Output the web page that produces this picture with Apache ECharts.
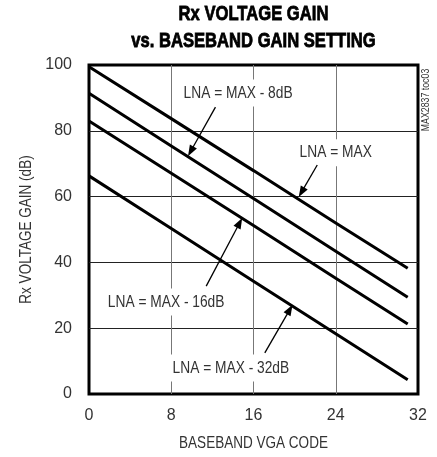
<!DOCTYPE html>
<html>
<head>
<meta charset="utf-8">
<script src="https://cdn.jsdelivr.net/npm/echarts@6/dist/echarts.min.js"></script>
<style>
html,body{margin:0;padding:0;background:#fff;}
#chart{width:437px;height:457px;}
</style>
</head>
<body>
<div id="chart"></div>
<script>
// ---- data ----
const codes = [0, 8, 16, 24, 31];
const lnaMax   = [99.5, 83.7, 67.9, 52.0, 38.2];
const lnaMax8  = [91.4, 75.4, 59.4, 43.4, 29.4];
const lnaMax16 = [83.0, 67.1, 51.2, 35.2, 21.3];
const lnaMax32 = [66.3, 50.3, 34.3, 18.3, 4.3];
const seriesNames = ['LNA = MAX', 'LNA = MAX - 8dB', 'LNA = MAX - 16dB', 'LNA = MAX - 32dB'];
const xTickLabels = ['0', '8', '16', '24', '32'];
const yTickLabels = ['0', '20', '40', '60', '80', '100'];
const titleLines = ['Rx VOLTAGE GAIN', 'vs. BASEBAND GAIN SETTING'];
const xAxisName = 'BASEBAND VGA CODE';
const yAxisName = 'Rx VOLTAGE GAIN (dB)';
const noteText = 'MAX2837 toc03';
// annotation anchors in data units (label centre, arrow tail, arrow tip)
const labelPos  = [[24.0, 73.3], [14.5, 91.5], [7.5, 28.0], [13.8, 7.9]];
const arrowTail = [[22.2, 69.6], [12.3, 87.2], [11.4, 32.8], [17.1, 12.5]];
const arrowTip  = [[20.4, 59.9], [9.63, 72.3], [14.9, 53.5], [19.8, 27.1]];

const FONT = '"Liberation Sans", Arial, sans-serif';
const NARROW = 0.82;
const allSeries = [lnaMax, lnaMax8, lnaMax16, lnaMax32];

const chart = echarts.init(document.getElementById('chart'), null, {renderer: 'canvas'});
const option = {
  animation: false,
  backgroundColor: '#fff',
  grid: {left: 89, right: 19, top: 65, bottom: 63, show: true, borderColor: '#000', borderWidth: 3, backgroundColor: 'transparent'},
  xAxis: {
    type: 'value', min: 0, max: 32, interval: 8,
    axisLine: {show: false}, axisTick: {show: false},
    axisLabel: {fontFamily: FONT, fontSize: 16, color: '#333', margin: 14,
      formatter: v => xTickLabels[xTickLabels.indexOf(String(v))] || ''},
    splitLine: {show: true, showMinLine: false, showMaxLine: false, lineStyle: {color: '#777', width: 1}}
  },
  yAxis: {
    type: 'value', min: 0, max: 100, interval: 20,
    axisLine: {show: false}, axisTick: {show: false},
    axisLabel: {fontFamily: FONT, fontSize: 16, color: '#333', margin: 17,
      formatter: v => yTickLabels[yTickLabels.indexOf(String(v))] || ''},
    splitLine: {show: true, showMinLine: false, showMaxLine: false, lineStyle: {color: '#222', width: 1}}
  },
  series: allSeries.map((vals, i) => ({
    name: seriesNames[i], type: 'line', showSymbol: false, symbol: 'none',
    data: codes.map((c, j) => [c, vals[j]]),
    lineStyle: {color: '#000', width: 3}, z: 3
  }))
};
chart.setOption(option);

function narrowText(text, x, y, size, opts) {
  opts = opts || {};
  return {
    type: 'text', x: x, y: y, z: 10, rotation: opts.rotation || 0,
    scaleX: opts.scaleX || NARROW, scaleY: 1,
    style: Object.assign({text: text, font: (opts.weight || 'normal') + ' ' + size + 'px ' + FONT,
      fill: opts.fill || '#333', align: 'center', verticalAlign: 'middle'}, opts.extra || {})
  };
}

function buildGraphics() {
  const g = [];
  const gridRect = chart.getModel().getComponent('grid', 0).coordinateSystem.getRect();
  const cx = gridRect.x + gridRect.width / 2;
  const cy = gridRect.y + gridRect.height / 2;
  // title
  const tExtra = {stroke: '#000', lineWidth: 0.8};
  g.push(narrowText(titleLines[0], cx, 14, 20.5, {weight: 'bold', fill: '#000', scaleX: 0.81, extra: tExtra}));
  g.push(narrowText(titleLines[1], cx, 41, 20.5, {weight: 'bold', fill: '#000', scaleX: 0.81, extra: tExtra}));
  // axis names
  g.push(narrowText(xAxisName, cx, gridRect.y + gridRect.height + 49, 16.5));
  g.push(narrowText(yAxisName, 26, cy, 16.5, {rotation: Math.PI / 2}));
  // annotations
  for (let i = 0; i < seriesNames.length; i++) {
    const lp = chart.convertToPixel({gridIndex: 0}, labelPos[i]);
    const t = chart.convertToPixel({gridIndex: 0}, arrowTail[i]);
    const h = chart.convertToPixel({gridIndex: 0}, arrowTip[i]);
    const dx = h[0] - t[0], dy = h[1] - t[1];
    const len = Math.sqrt(dx*dx + dy*dy);
    const ux = dx/len, uy = dy/len;
    const hl = 11, hw = 4;
    const bx = h[0] - ux*hl, by = h[1] - uy*hl;
    g.push(narrowText(seriesNames[i], lp[0], lp[1], 16.8, {extra: {backgroundColor: '#fff', padding: [5, 4]}}));
    g.push({type: 'line', z: 10, shape: {x1: t[0], y1: t[1], x2: bx + ux*2, y2: by + uy*2},
      style: {stroke: '#000', lineWidth: 1.3}});
    g.push({type: 'polygon', z: 10, shape: {points: [[h[0], h[1]], [bx - uy*hw, by + ux*hw], [bx + uy*hw, by - ux*hw]]},
      style: {fill: '#000'}});
  }
  g.push(narrowText(noteText, 426, 100, 11, {rotation: Math.PI / 2, scaleX: 0.8}));
  chart.setOption({graphic: g});
}
buildGraphics();
</script>
</body>
</html>
